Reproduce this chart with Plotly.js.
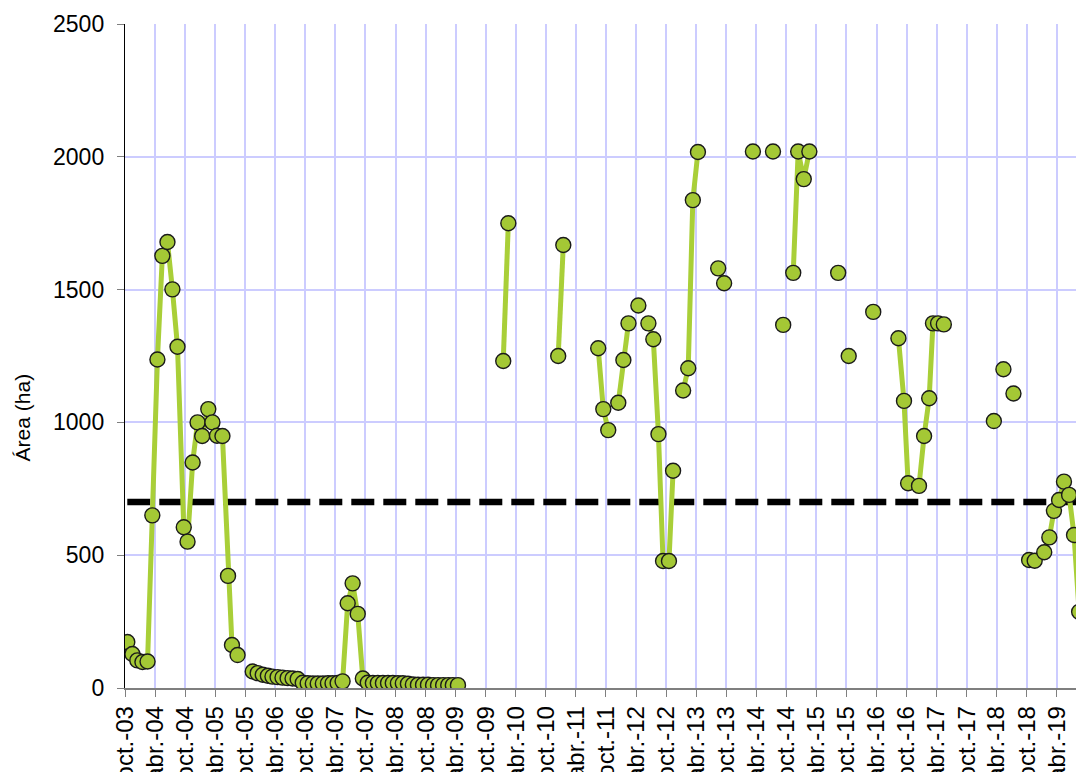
<!DOCTYPE html>
<html>
<head>
<meta charset="utf-8">
<script src="https://cdn.plot.ly/plotly-3.0.1.min.js"></script>
<style>
html, body { margin: 0; padding: 0; background: #ffffff; }
#chart { width: 1076px; height: 772px; }
</style>
</head>
<body>
<div id="chart"></div>
<script>
// Observation dates (null area values break the line, as in the original)
const dates = [
  '2003-10-15','2003-11-15','2003-12-15','2004-01-15','2004-02-15','2004-03-15','2004-04-15','2004-05-15',
  '2004-06-15','2004-07-15','2004-08-15','2004-09-22','2004-10-15','2004-11-15','2004-12-15','2005-01-12',
  '2005-02-18','2005-03-15','2005-04-12','2005-05-15','2005-06-18','2005-07-12','2005-08-15',
  '2005-09-30',
  '2005-11-15','2005-12-15','2006-01-15','2006-02-15','2006-03-15','2006-04-15','2006-05-15','2006-06-15',
  '2006-07-15','2006-08-15','2006-09-15','2006-10-15','2006-11-15','2006-12-15','2007-01-15','2007-02-15',
  '2007-03-15','2007-04-15','2007-05-15','2007-06-15','2007-07-15','2007-08-15','2007-09-15','2007-10-15',
  '2007-11-15','2007-12-15','2008-01-15','2008-02-15','2008-03-15','2008-04-15','2008-05-15','2008-06-15',
  '2008-07-15','2008-08-15','2008-09-15','2008-10-15','2008-11-15','2008-12-15','2009-01-15','2009-02-15',
  '2009-03-15','2009-04-15',
  '2009-08-15',
  '2010-01-15','2010-02-15',
  '2010-06-15',
  '2010-12-15','2011-01-15',
  '2011-05-15',
  '2011-08-15','2011-09-15','2011-10-15',
  '2011-11-15',
  '2011-12-15','2012-01-15','2012-02-15',
  '2012-03-15',
  '2012-04-15',
  '2012-05-15',
  '2012-06-15','2012-07-15','2012-08-15','2012-09-12','2012-10-18','2012-11-12',
  '2012-12-15',
  '2013-01-12','2013-02-12','2013-03-12','2013-04-12',
  '2013-06-15',
  '2013-08-13','2013-09-18',
  '2013-12-01',
  '2014-03-12',
  '2014-05-15',
  '2014-07-12',
  '2014-08-15',
  '2014-09-12',
  '2014-10-15',
  '2014-11-12','2014-12-12','2015-01-15','2015-02-18',
  '2015-05-15',
  '2015-08-12',
  '2015-09-15',
  '2015-10-15',
  '2015-12-15',
  '2016-03-12',
  '2016-06-01',
  '2016-08-12','2016-09-15','2016-10-10','2016-12-15','2017-01-15','2017-02-15','2017-03-10','2017-04-10',
  '2017-05-15',
  '2017-10-15',
  '2018-03-15',
  '2018-04-15',
  '2018-05-12',
  '2018-06-15',
  '2018-07-12',
  '2018-09-01',
  '2018-10-15','2018-11-18','2019-01-15','2019-02-15','2019-03-15','2019-04-15','2019-05-15','2019-06-15',
  '2019-07-15','2019-08-15'
];

// Area (ha)
const area = [
  173, 128, 104, 98, 100, 650, 1237, 1627,
  1679, 1501, 1285, 605, 551, 849, 1000, 949,
  1050, 1000, 950, 949, 422, 162, 124,
  null,
  62, 56, 50, 46, 43, 41, 39, 37,
  36, 34, 20, 18, 17, 17, 17, 18,
  18, 19, 25, 319, 394, 279, 36, 20,
  19, 19, 19, 19, 19, 18, 18, 16,
  13, 12, 12, 12, 11, 11, 11, 11,
  11, 11,
  null,
  1231, 1750,
  null,
  1250, 1668,
  null,
  1279, 1050, 971,
  null,
  1074, 1235, 1373,
  null,
  1440,
  null,
  1373, 1313, 956, 478, 478, 818,
  null,
  1120, 1204, 1837, 2018,
  null,
  1580, 1524,
  null,
  2020,
  null,
  2020,
  null,
  1367,
  null,
  1563, 2020, 1916, 2020,
  null,
  1563,
  null,
  1250,
  null,
  1416,
  null,
  1317, 1081, 771, 761, 949, 1091, 1373, 1373,
  1369,
  null,
  1005,
  null,
  1200,
  null,
  1109,
  null,
  482, 479, 511, 567, 667, 708, 777, 727,
  576, 287
];

// Reference level (dashed line)
const thresholdDates = ['2003-10-15', '2019-08-15'];
const thresholdArea = [700, 700];

// Axis ticks
const tickDates = [
  '2003-10-01','2004-04-01','2004-10-01','2005-04-01','2005-10-01','2006-04-01','2006-10-01','2007-04-01',
  '2007-10-01','2008-04-01','2008-10-01','2009-04-01','2009-10-01','2010-04-01','2010-10-01','2011-04-01',
  '2011-10-01','2012-04-01','2012-10-01','2013-04-01','2013-10-01','2014-04-01','2014-10-01','2015-04-01',
  '2015-10-01','2016-04-01','2016-10-01','2017-04-01','2017-10-01','2018-04-01','2018-10-01','2019-04-01'
];
const tickLabels = [
  'oct.-03','abr.-04','oct.-04','abr.-05','oct.-05','abr.-06','oct.-06','abr.-07',
  'oct.-07','abr.-08','oct.-08','abr.-09','oct.-09','abr.-10','oct.-10','abr.-11',
  'oct.-11','abr.-12','oct.-12','abr.-13','oct.-13','abr.-14','oct.-14','abr.-15',
  'oct.-15','abr.-16','oct.-16','abr.-17','oct.-17','abr.-18','oct.-18','abr.-19'
];
const yTitle = 'Área (ha)';

const FONT = '"Liberation Sans", Arial, sans-serif';

const traces = [
  {
    x: thresholdDates, y: thresholdArea,
    type: 'scatter', mode: 'lines',
    line: { color: '#000000', width: 6.5, dash: '23px,9px' },
    hoverinfo: 'skip', showlegend: false
  },
  {
    x: dates, y: area,
    type: 'scatter', mode: 'lines+markers',
    connectgaps: false,
    line: { color: '#a9cf38', width: 5 },
    marker: { size: 15, color: '#a4c835', line: { color: '#1a1a1a', width: 1.4 } },
    showlegend: false
  }
];

const layout = {
  width: 1076, height: 772,
  margin: { l: 125, r: 0, t: 24, b: 84 },
  paper_bgcolor: '#ffffff', plot_bgcolor: '#ffffff',
  font: { family: FONT, size: 22, color: '#000000' },
  showlegend: false,
  xaxis: {
    type: 'date',
    range: ['2003-10-01', '2019-07-27'],
    tickmode: 'array', tickvals: tickDates, ticktext: tickLabels,
    tickangle: -90,
    tickfont: { family: FONT, size: 24, color: '#000000' },
    ticks: 'outside', ticklen: 7, tickcolor: '#7f7f7f', tickwidth: 1,
    showgrid: true, gridcolor: '#ccccff', gridwidth: 2,
    showline: true, linecolor: '#7f7f7f', linewidth: 1.5,
    zeroline: false, automargin: false, fixedrange: true
  },
  yaxis: {
    range: [0, 2500], dtick: 500, tick0: 0,
    tickfont: { family: FONT, size: 23, color: '#000000' },
    ticks: 'outside', ticklen: 7, tickcolor: '#7f7f7f', tickwidth: 1,
    ticklabelstandoff: 8,
    showgrid: true, gridcolor: '#ccccff', gridwidth: 2,
    showline: true, linecolor: '#000000', linewidth: 1.2,
    zeroline: false, automargin: false, fixedrange: true
  },
  annotations: [{
    text: yTitle, textangle: -90,
    xref: 'paper', x: -0.108, xanchor: 'center',
    yref: 'y', y: 1020, yanchor: 'middle',
    showarrow: false,
    font: { family: FONT, size: 21, color: '#000000' }
  }]
};

Plotly.newPlot('chart', traces, layout, { staticPlot: true, displayModeBar: false });
</script>
</body>
</html>
